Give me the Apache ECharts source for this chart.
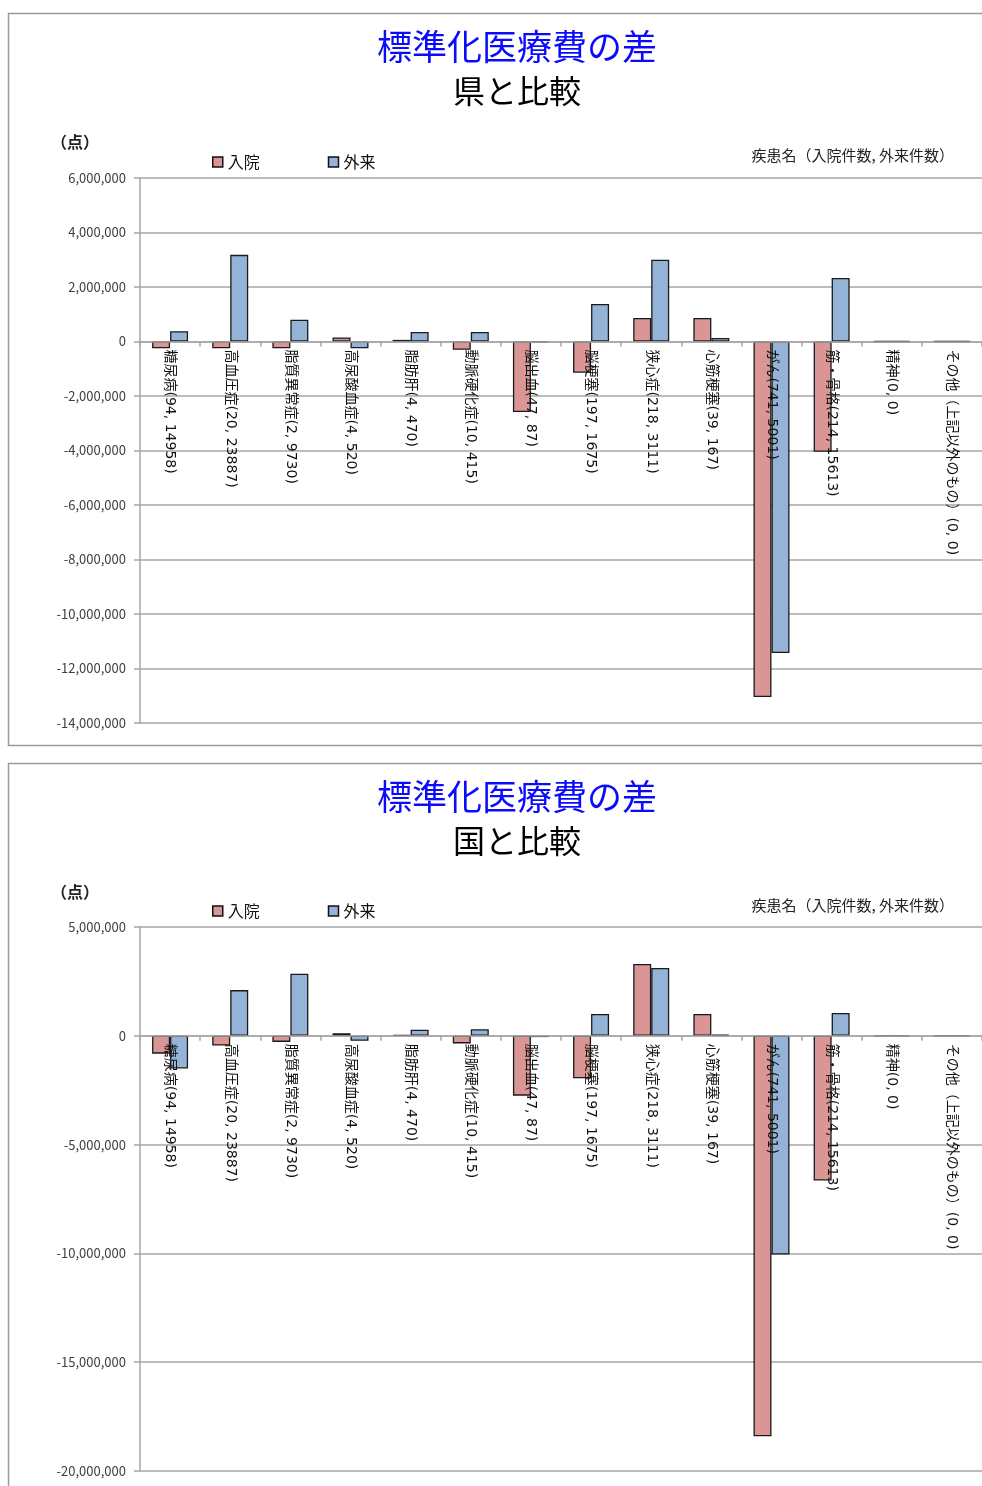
<!DOCTYPE html>
<html><head><meta charset="utf-8">
<style>html,body{margin:0;padding:0;background:#fff;overflow:hidden}#c{width:982px;height:1486px}</style>
<script src="https://cdn.jsdelivr.net/npm/echarts@6/dist/echarts.min.js"></script>
</head><body><div id="c"></div>
<script>
const categories = ['糖尿病(94, 14958)', '高血圧症(20, 23887)', '脂質異常症(2, 9730)', '高尿酸血症(4, 520)', '脂肪肝(4, 470)', '動脈硬化症(10, 415)', '脳出血(47, 87)', '脳梗塞(197, 1675)', '狭心症(218, 3111)', '心筋梗塞(39, 167)', 'がん(741, 5001)', '筋・骨格(214, 15613)', '精神(0, 0)', 'その他（上記以外のもの）(0, 0)'];
const seriesNames = ['入院', '外来'];
const prefInpatient = [-250000, -250000, -250000, 150000, 60000, -300000, -2590000, -1150000, 860000, 860000, -13050000, -4050000, 0, 0];
const prefOutpatient = [380000, 3180000, 800000, -250000, 350000, 350000, -30000, 1380000, 3000000, 130000, -11430000, 2330000, 0, 0];
const natInpatient = [-820000, -450000, -280000, 120000, 40000, -350000, -2750000, -1950000, 3300000, 1000000, -18400000, -6650000, 0, 0];
const natOutpatient = [-1500000, 2100000, 2850000, -230000, 280000, 300000, -60000, 1000000, 3120000, 50000, -10050000, 1050000, 0, 0];
const prefAxis = {min: -14000000, max: 6000000, interval: 2000000};
const natAxis = {min: -20000000, max: 5000000, interval: 5000000};
const titleMain = '標準化医療費の差';
const titleSubs = ['県と比較', '国と比較'];
const unitLabel = '（点）';
const noteLabel = '疾患名（入院件数, 外来件数）';

const FONT = '"Noto Sans CJK JP", "Noto Sans", sans-serif';
const LABEL_FONT = '"DejaVu Sans", "Noto Sans CJK JP", sans-serif';
const RED = '#d99694', BLUE = '#95b3d7';
const grids = [
  {left: 140, top: 178, width: 854, height: 545},
  {left: 140, top: 927, width: 854, height: 544}
];
const chart = echarts.init(document.getElementById('c'), null, {renderer: 'canvas'});

function xAxis(gi, ax) {
  // place the category axis on the zero line of the value axis
  const zeroFromBottom = grids[gi].height * (0 - ax.min) / (ax.max - ax.min);
  return {
    type: 'category', gridIndex: gi, data: categories, z: 5,
    position: 'bottom', offset: -zeroFromBottom,
    axisLine: {onZero: false, lineStyle: {color: '#a6a6a6', width: 1.5}},
    axisTick: {show: true, length: 5, lineStyle: {color: '#a6a6a6', width: 1.5}},
    axisLabel: {interval: 0, rotate: -90, margin: 8, color: '#111', fontSize: 14, fontFamily: LABEL_FONT},
    splitLine: {show: false}
  };
}
function yAxis(gi, ax) {
  return {
    type: 'value', gridIndex: gi, min: ax.min, max: ax.max, interval: ax.interval,
    axisLine: {show: true, onZero: false, lineStyle: {color: '#a6a6a6', width: 1.5}},
    axisTick: {show: true, length: 6, lineStyle: {color: '#a6a6a6', width: 1.5}},
    axisLabel: {margin: 14, color: '#404040', fontSize: 13, fontFamily: FONT,
      formatter: v => v.toLocaleString('en-US')},
    splitLine: {show: true, lineStyle: {color: '#a6a6a6', width: 1.5}}
  };
}
function bar(name, data, gi, color) {
  return {
    type: 'bar', name, data, xAxisIndex: gi, yAxisIndex: gi,
    barWidth: 18, barGap: '0%',
    itemStyle: {color, borderColor: '#1a1a1a', borderWidth: 1.3}
  };
}
function legend(top) {
  return {
    data: seriesNames, left: 207, top, itemWidth: 10, itemHeight: 10, itemGap: 68,
    icon: 'rect', textStyle: {fontSize: 16, color: '#111', fontFamily: FONT},
    itemStyle: {borderColor: '#111', borderWidth: 1.5}
  };
}
function panelTexts(dy, sub) {
  return [
    {type: 'rect', shape: {x: 8.5, y: 13.5 + dy, width: 1200, height: dy ? 900 : 732}, style: {fill: 'none', stroke: '#9a9a9a', lineWidth: 1.5}, silent: true, z: -10},
    {type: 'text', style: {text: titleMain, x: 517, y: 47 + dy, align: 'center', verticalAlign: 'middle', fill: '#0a0aff', font: '35px ' + FONT}},
    {type: 'text', style: {text: sub, x: 517, y: 91 + dy, align: 'center', verticalAlign: 'middle', fill: '#000', font: '32px ' + FONT}},
    {type: 'text', style: {text: unitLabel, x: 75, y: 142 + dy, align: 'center', verticalAlign: 'middle', fill: '#222', font: 'bold 16px ' + FONT}},
    {type: 'text', style: {text: noteLabel, x: 954, y: 155 + dy, align: 'right', verticalAlign: 'middle', fill: '#222', font: '15px ' + FONT}}
  ];
}

chart.setOption({
  animation: false,
  backgroundColor: '#fff',
  grid: grids,
  legend: [legend(149), legend(898)],
  xAxis: [xAxis(0, prefAxis), xAxis(1, natAxis)],
  yAxis: [yAxis(0, prefAxis), yAxis(1, natAxis)],
  series: [
    bar(seriesNames[0], prefInpatient, 0, RED),
    bar(seriesNames[1], prefOutpatient, 0, BLUE),
    bar(seriesNames[0], natInpatient, 1, RED),
    bar(seriesNames[1], natOutpatient, 1, BLUE)
  ],
  graphic: [...panelTexts(0, titleSubs[0]), ...panelTexts(750, titleSubs[1])]
});
</script></body></html>
